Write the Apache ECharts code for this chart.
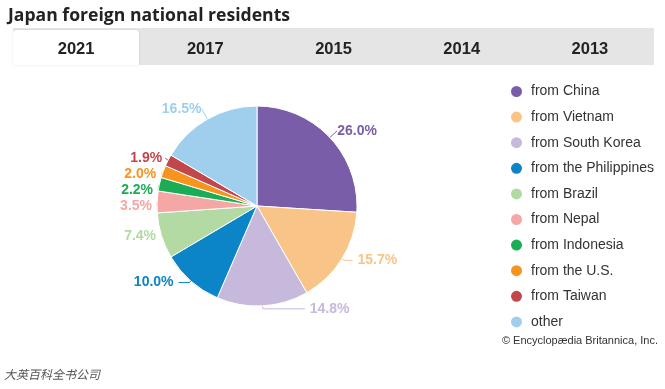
<!DOCTYPE html>
<html><head><meta charset="utf-8">
<script src="https://cdn.jsdelivr.net/npm/echarts@6/dist/echarts.min.js"></script>
<style>html,body{margin:0;padding:0;background:#fff;}#c{width:665px;height:389px;}</style>
</head><body><div id="c"></div>
<script>
const categories = ["from China","from Vietnam","from South Korea","from the Philippines","from Brazil","from Nepal","from Indonesia","from the U.S.","from Taiwan","other"];
const values = [26.0,15.7,14.8,10.0,7.4,3.5,2.2,2.0,1.9,16.5];
const colors = ["#7A5DA8","#F9C487","#C6B9DC","#0B84C8","#B4DAA3","#F5A7A6","#1BAD56","#F7941D","#C1474D","#A0CFEE"];
const tabs = ["2021","2017","2015","2014","2013"];
// label-line styling per slice: [length, length2, gap]
const lineStyleCfg = [[10,0,0],[3,8,5],[3,42,5],[2,11,5],[2,3,5],[2,3,5],[2,3,5],[2,3,5],[5,0,3],[12,0,0]];

const chart = echarts.init(document.getElementById('c'), null, {renderer:'canvas'});
const graphics = [];
graphics.push({type:'rect', shape:{x:13,y:28,width:641,height:37}, style:{fill:'#e5e5e5'}, silent:true});
graphics.push({type:'rect', shape:{x:13,y:30,width:126,height:35,r:[3,3,0,0]}, style:{fill:'#fff', shadowColor:'rgba(0,0,0,0.15)', shadowBlur:2}, silent:true});
const tw = 641/5;
tabs.forEach((t,i)=>{
  graphics.push({type:'text', x:13+tw*i+tw/2 - (i===0?1:0), y:49, style:{text:t, font:'bold 16.5px "Liberation Sans", Arial, sans-serif', fill:'#222', align:'center', verticalAlign:'middle'}, silent:true});
});
graphics.push({type:'text', x:8, y:16, style:{text:'Japan foreign national residents', font:'bold 17.6px "Open Sans", "Liberation Sans", sans-serif', fill:'#222', verticalAlign:'middle'}});
graphics.push({type:'text', x:658, y:341, style:{text:'© Encyclopædia Britannica, Inc.', font:'11px "Liberation Sans", Arial, sans-serif', fill:'#333', align:'right', verticalAlign:'middle'}});
graphics.push({type:'text', x:4, y:374, style:{text:'大英百科全书公司', font:'italic 12px "Noto Sans CJK SC", sans-serif', fill:'#555', verticalAlign:'middle'}});

chart.setOption({
  animation:false,
  color: colors,
  graphic: graphics,
  legend:{
    orient:'vertical', left:509, top:84, padding:0, icon:'circle', itemWidth:13, itemHeight:13, itemGap:10.6,
    textStyle:{fontFamily:'"Liberation Sans", Arial, sans-serif', fontSize:14, color:'#333', padding:[0,0,0,3]},
    data: categories
  },
  series:[{
    type:'pie', center:[257,206], radius:100, startAngle:90, clockwise:true,
    itemStyle:{borderColor:'#fff', borderWidth:1},
    label:{show:true, formatter:p=>p.value.toFixed(1)+'%', fontFamily:'"Liberation Sans", Arial, sans-serif', fontWeight:'bold', fontSize:14},
    labelLine:{show:true, lineStyle:{width:1}},
    data: categories.map((c,i)=>({name:c, value:values[i],
      label:{color:colors[i], distanceToLabelLine:lineStyleCfg[i][2]},
      labelLine:{length:lineStyleCfg[i][0], length2:lineStyleCfg[i][1], lineStyle:{color:colors[i]}}}))
  }]
});
</script></body></html>
